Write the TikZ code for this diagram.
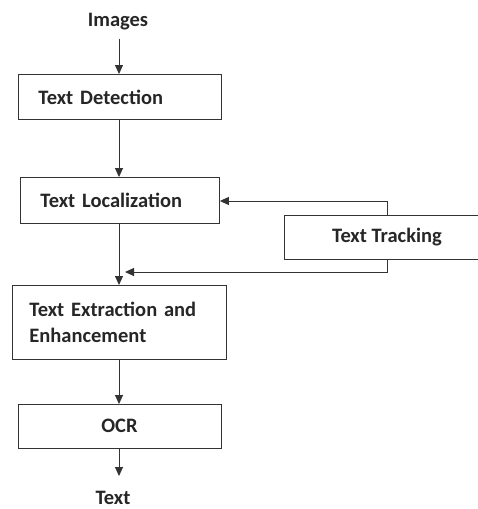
\documentclass[tikz,border=0pt]{standalone}
\usepackage{fontspec}
\setmainfont{Carlito}
\usetikzlibrary{arrows.meta}
\begin{document}
\begin{tikzpicture}[x=1pt,y=-1pt,
  every node/.style={font=\bfseries\fontsize{20.5}{27}\selectfont, text=black!85},
  boxl/.style={draw=black!80, line width=0.9pt, rectangle, minimum height=#1, inner ysep=0pt, align=left, anchor=north west},
  boxc/.style={draw=black!80, line width=0.9pt, rectangle, minimum height=#1, inner ysep=0pt, align=center},
  lbl/.style={inner sep=0pt},
  conn/.style={draw=black!80, line width=0.9pt, -{Triangle[length=9pt,width=8pt]}},
  link/.style={draw=black!80, line width=0.9pt}]
\useasboundingbox (0,0) rectangle (478,509);
\clip (0,0) rectangle (478,509);
\node[lbl] (img) at (118,22) {Images};
\node[boxl=45pt, inner xsep=20pt, text width=163pt] (det) at (18,74) {Text Detection};
\node[boxl=46pt, inner xsep=20pt, text width=159pt] (loc) at (20,177) {Text Localization};
\node[boxl=74pt, inner xsep=17pt, text width=180pt] (ext) at (12,285) {Text Extraction and\\[-1pt]Enhancement};
\node[boxc=44pt, minimum width=203pt] (ocr) at (119.5,426) {OCR};
\node[boxc=44pt, minimum width=206pt] (trk) at (387,237) {Text Tracking};
\node[lbl] (out) at (113,498) {Text};
\coordinate (tip) at (125,272);
\draw[conn] (img.south -| 119,0) ++(0,8) -- (119,74);
\draw[conn] (119,119) -- (119,177);
\draw[conn] (119,223) -- (119,285);
\draw[conn] (119,359) -- (119,404);
\draw[conn] (119,448) -- (119,476);
\draw[conn] (trk.north) -- (trk.north |- 0,201) -- (loc.east |- 0,201);
\draw[conn] (trk.south) -- (trk.south |- tip) -- (tip);
\end{tikzpicture}
\end{document}
